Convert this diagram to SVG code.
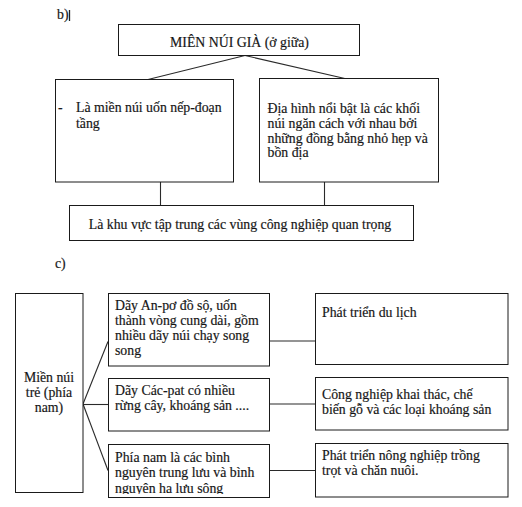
<svg xmlns="http://www.w3.org/2000/svg" width="522" height="507" viewBox="0 0 522 507">
<defs>
<style>
.t{font-family:"Liberation Serif","Times New Roman",serif;font-size:13.8px;fill:#111;stroke:#333;stroke-width:0.2}
.c{text-anchor:middle}
.b{fill:#fff;stroke:#1a1a1a;stroke-width:1}
.ln{stroke:#2a2a2a;stroke-width:1.1;fill:none}
</style>
<clipPath id="clip3"><rect x="108" y="444" width="161" height="50"/></clipPath>
</defs>
<rect width="522" height="507" fill="#fff"/>
<text class="t" x="57" y="19">b)</text>
<line x1="69.5" y1="10" x2="69.5" y2="21" stroke="#222" stroke-width="1.3"/>
<text class="t" x="55" y="268">c)</text>

<g id="connectors">
<line class="ln" x1="245" y1="55.5" x2="148" y2="79.5"/>
<line class="ln" x1="245" y1="55.5" x2="347" y2="79"/>
<line class="ln" x1="160.5" y1="182" x2="160.5" y2="205"/>
<line class="ln" x1="324.5" y1="182" x2="324.5" y2="205"/>
<line class="ln" x1="83" y1="404" x2="108" y2="341.5"/>
<line class="ln" x1="83" y1="404.5" x2="108" y2="404.5"/>
<line class="ln" x1="83" y1="404" x2="108" y2="470.5"/>
<line class="ln" x1="269" y1="341" x2="315" y2="341"/>
<line class="ln" x1="269" y1="404" x2="315" y2="404"/>
<line class="ln" x1="269" y1="470.5" x2="315" y2="470.5"/>
</g>

<g id="n_top">
<rect class="b" x="118.5" y="24.5" width="241" height="31"/>
<text class="t c" x="239.5" y="46.5">MIÊN NÚI GIÀ (ở giữa)</text>
</g>
<g id="n_b_left">
<rect class="b" x="55.5" y="79.5" width="178" height="102.5"/>
<text class="t" x="58" y="112">-</text>
<text class="t" x="76" y="112">Là miền núi uốn nếp-đoạn</text>
<text class="t" x="76" y="128">tầng</text>
</g>
<g id="n_b_right">
<rect class="b" x="259.5" y="78.5" width="179" height="103.5"/>
<text class="t" x="267.5" y="112.5">Địa hình nổi bật là các khối</text>
<text class="t" x="267.5" y="127.5">núi ngăn cách với nhau bởi</text>
<text class="t" x="267.5" y="142.5">những đồng bằng nhỏ hẹp và</text>
<text class="t" x="267.5" y="157">bồn địa</text>
</g>
<g id="n_b_bottom">
<rect class="b" x="69.5" y="205.5" width="344" height="35"/>
<text class="t c" x="240" y="229">Là khu vực tập trung các vùng công nghiệp quan trọng</text>
</g>

<g id="n_c_root">
<rect class="b" x="15.5" y="293.5" width="67.5" height="199"/>
<text class="t c" x="49" y="381.5">Miền núi</text>
<text class="t c" x="49" y="396.5">trẻ (phía</text>
<text class="t c" x="49" y="411.5">nam)</text>
</g>
<g id="n_c_m1">
<rect class="b" x="108.5" y="293.5" width="161" height="72.5"/>
<text class="t" x="115" y="309.5">Dãy An-pơ đồ sộ, uốn</text>
<text class="t" x="115" y="324.5">thành vòng cung dài, gồm</text>
<text class="t" x="115" y="339.5">nhiều dãy núi chạy song</text>
<text class="t" x="115" y="355">song</text>
</g>
<g id="n_c_m2">
<rect class="b" x="108.5" y="378.5" width="161" height="52.5"/>
<text class="t" x="115" y="395">Dãy Các-pat có nhiều</text>
<text class="t" x="115" y="410">rừng cây, khoáng sản ....</text>
</g>
<g id="n_c_m3">
<rect class="b" x="108.5" y="444.5" width="161" height="53"/>
<g clip-path="url(#clip3)">
<text class="t" x="115" y="461.5">Phía nam là các bình</text>
<text class="t" x="115" y="477">nguyên trung lưu và bình</text>
<text class="t" x="115" y="493">nguyên hạ lưu sông</text>
</g>
</g>
<g id="n_c_r1">
<rect class="b" x="315.5" y="293.5" width="192.5" height="71"/>
<text class="t" x="322" y="316.5">Phát triển du lịch</text>
</g>
<g id="n_c_r2">
<rect class="b" x="315.5" y="377.5" width="192.5" height="52.5"/>
<text class="t" x="322" y="399">Công nghiệp khai thác, chế</text>
<text class="t" x="322" y="414">biến gỗ và các loại khoáng sản</text>
</g>
<g id="n_c_r3">
<rect class="b" x="315.5" y="443.5" width="192.5" height="53.5"/>
<text class="t" x="322" y="460">Phát triển nông nghiệp trồng</text>
<text class="t" x="322" y="474.5">trọt và chăn nuôi.</text>
</g>
</svg>
